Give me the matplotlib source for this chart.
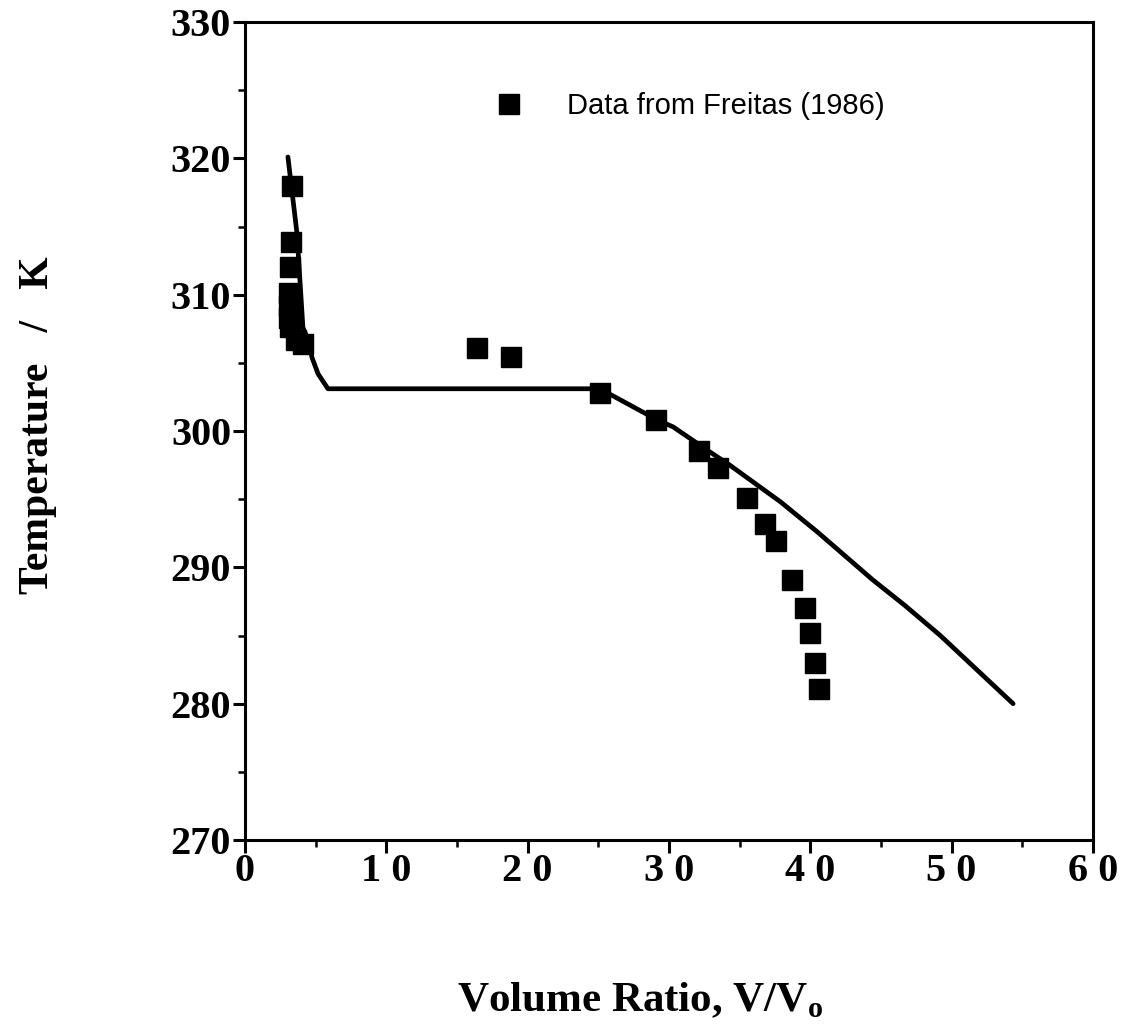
import matplotlib
matplotlib.use("Agg")
import matplotlib.pyplot as plt
from matplotlib.ticker import MultipleLocator, FixedLocator

# Data from Freitas (1986) — squares
data_x = [3.33, 3.26, 3.2, 3.1, 3.1, 3.15, 3.2, 3.6, 4.1,
          16.4, 18.8, 25.1, 29.1, 32.1, 33.5, 35.5, 36.8, 37.6,
          38.7, 39.6, 40.0, 40.3, 40.6]
data_T = [318.0, 313.9, 312.0, 310.1, 309.2, 308.3, 307.6, 306.7, 306.4,
          306.1, 305.4, 302.8, 300.8, 298.5, 297.3, 295.1, 293.2, 291.9,
          289.1, 287.0, 285.2, 283.0, 281.1]

# Model curve
curve_x = [3.04, 3.68, 4.1, 4.46, 4.74, 5.17, 5.87, 25.1, 26.0, 29.2, 30.3,
           32.7, 34.3, 37.9, 40.5, 44.4, 46.7, 49.2, 54.35]
curve_T = [320.1, 314.5, 307.6, 306.7, 305.4, 304.2, 303.1, 303.1, 302.6, 300.8, 300.3,
           298.6, 297.5, 294.8, 292.6, 289.1, 287.2, 285.0, 280.0]

x_ticks = [0, 10, 20, 30, 40, 50, 60]
x_tick_labels = ["0", "1 0", "2 0", "3 0", "4 0", "5 0", "6 0"]
y_ticks = [270, 280, 290, 300, 310, 320, 330]
y_tick_labels = [str(v) for v in y_ticks]

serif = ["Liberation Serif", "DejaVu Serif"]

fig = plt.figure(figsize=(11.32, 10.34), dpi=100)
ax = fig.add_axes([0.2164, 0.1876, 0.7491, 0.7911])

ax.plot(curve_x, curve_T, color="black", lw=3.4, solid_capstyle="round",
        solid_joinstyle="round", zorder=2)
ax.plot(data_x, data_T, linestyle="none", marker="s", markersize=14,
        color="black", label="Data from Freitas (1986)", zorder=3)

ax.set_xlim(0, 60)
ax.set_ylim(270, 330)
ax.xaxis.set_major_locator(FixedLocator(x_ticks))
ax.set_xticklabels(x_tick_labels)
ax.yaxis.set_major_locator(FixedLocator(y_ticks))
ax.set_yticklabels(y_tick_labels)
ax.xaxis.set_minor_locator(MultipleLocator(5))
ax.yaxis.set_minor_locator(MultipleLocator(5))

for sp in ax.spines.values():
    sp.set_linewidth(2.2)

ax.tick_params(which="major", direction="out", length=9, width=2.2)
ax.tick_params(which="minor", direction="out", length=5, width=1.8)
ax.tick_params(axis="x", which="major", pad=0)
ax.tick_params(axis="y", which="major", pad=1)
for lab in ax.get_xticklabels() + ax.get_yticklabels():
    lab.set_fontfamily(serif)
    lab.set_fontweight("bold")
    lab.set_fontsize(29)

ax.set_xlabel(r"Volume Ratio, V/V$_\mathregular{o}$", fontfamily=serif,
              fontweight="bold", fontsize=31)
ax.xaxis.set_label_coords((640 - 245) / 848, -(1000 - 840) / 818, transform=ax.transAxes)
ax.xaxis.label.set_va("center")
ax.set_ylabel("Temperature   /   K", fontfamily=serif, fontweight="bold",
              fontsize=30)
ax.yaxis.set_label_coords(-(245 - 38) / 848, (840 - 425) / 818, transform=ax.transAxes)
ax.yaxis.label.set_va("center")

leg = ax.legend(loc="center left", bbox_to_anchor=(0.28, 0.897), frameon=False,
                handlelength=1.0, handletextpad=1.5, borderaxespad=0,
                prop={"family": ["Liberation Sans", "DejaVu Sans"], "size": 21})

fig.savefig("out.png", dpi=100)
